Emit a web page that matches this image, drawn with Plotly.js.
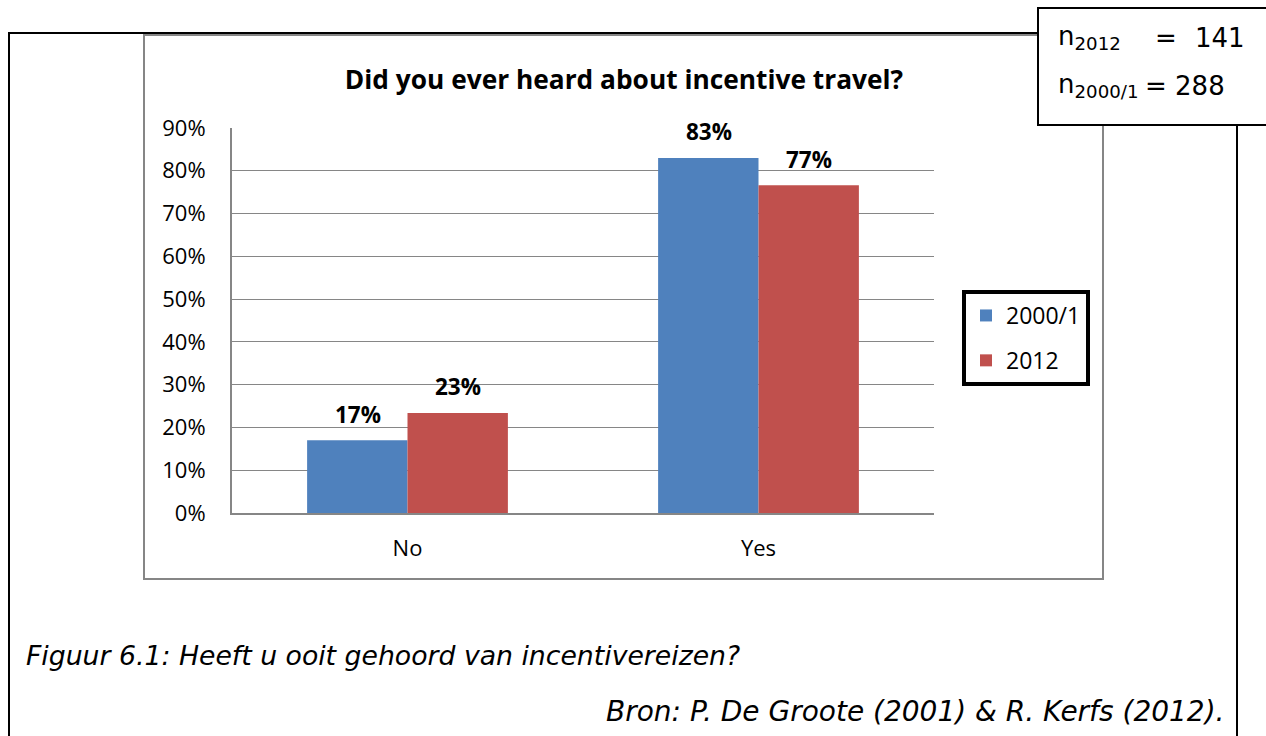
<!DOCTYPE html>
<html>
<head>
<meta charset="utf-8">
<script src="https://cdn.plot.ly/plotly-3.0.1.min.js"></script>
<style>html,body{margin:0;padding:0;background:#fff;}#chart{width:1266px;height:736px;}</style>
</head>
<body>
<div id="chart"></div>
<script>
// ---- data ----
const categories = ["No", "Yes"];
const seriesNames = ["2000/1", "2012"];
const values2000 = [17.0, 83.0];
const values2012 = [23.4, 76.6];
const yTickVals = [0, 10, 20, 30, 40, 50, 60, 70, 80, 90];
const yTickText = ["0%", "10%", "20%", "30%", "40%", "50%", "60%", "70%", "80%", "90%"];
const sampleLabels = ["2012", "2000/1"];
const sampleSizes = [141, 288];
const titleText = "Did you ever heard about incentive travel?";
const captionText = "Figuur 6.1: Heeft u ooit gehoord van incentivereizen?";
const sourceText = "Bron: P. De Groote (2001) & R. Kerfs (2012).";

// ---- layout helpers (pixel -> paper) ----
const PL = 232, PR = 934, PT = 128, PB = 513;
const W = PR - PL, H = PB - PT;
const px = x => (x - PL) / W;
const py = y => (PB - y) / H;

const colors = ["#4F81BD", "#C0504D"];
const chartFont = "'Open Sans', Lato, sans-serif";
const verdana = "'DejaVu Sans', Verdana, sans-serif";

const traces = [values2000, values2012].map((vals, i) => ({
  type: "bar",
  name: seriesNames[i],
  x: categories,
  y: vals,
  marker: {color: colors[i]},
  legendgroup: "g" + i,
  hoverinfo: "none"
}));

const annotations = [];
[values2000, values2012].forEach((vals, i) => {
  vals.forEach((v, j) => {
    annotations.push({
      xref: "x", yref: "y", x: categories[j], y: v,
      text: Math.round(v) + "%", showarrow: false,
      xshift: i === 0 ? -50 : 50, yshift: 26, yanchor: "middle",
      font: {family: chartFont, size: 22.5, color: "#000", weight: "bold"}
    });
  });
});

// caption & source
annotations.push({xref: "paper", yref: "paper", x: px(24), y: py(655), xanchor: "left", yanchor: "middle",
  text: "<i>" + captionText + "</i>", showarrow: false, font: {family: verdana, size: 26.7, color: "#000"}});
annotations.push({xref: "paper", yref: "paper", x: px(1226), y: py(711), xanchor: "right", yanchor: "middle",
  text: "<i>" + sourceText + "</i>", showarrow: false, font: {family: verdana, size: 28, color: "#000"}});

// n box texts
const nFont = {family: verdana, size: 26, color: "#000"};
const nRows = [38, 86];
sampleLabels.forEach((lab, i) => {
  annotations.push({xref: "paper", yref: "paper", x: px(1056), y: py(nRows[i]), xanchor: "left", yanchor: "middle",
    text: "n<sub>" + lab + "</sub>", showarrow: false, font: nFont});
});
annotations.push({xref: "paper", yref: "paper", x: px(1153), y: py(nRows[0]), xanchor: "left", yanchor: "middle",
  text: "=", showarrow: false, font: nFont});
annotations.push({xref: "paper", yref: "paper", x: px(1247), y: py(nRows[0]), xanchor: "right", yanchor: "middle",
  text: String(sampleSizes[0]), showarrow: false, font: nFont});
annotations.push({xref: "paper", yref: "paper", x: px(1143), y: py(nRows[1]), xanchor: "left", yanchor: "middle",
  text: "= " + sampleSizes[1], showarrow: false, font: nFont});

const shapes = [
  // outer black frame (document box)
  {type: "path", xref: "paper", yref: "paper", layer: "below",
   path: `M ${px(9)} ${py(745)} L ${px(9)} ${py(33)} L ${px(1237)} ${py(33)} L ${px(1237)} ${py(745)}`,
   line: {color: "#000", width: 2}},
  // chart border (gray)
  {type: "rect", xref: "paper", yref: "paper", layer: "below",
   x0: px(144), x1: px(1103), y0: py(579), y1: py(35),
   line: {color: "#868686", width: 2}, fillcolor: "rgba(0,0,0,0)"},
  // n box
  {type: "rect", xref: "paper", yref: "paper", layer: "above",
   x0: px(1038), x1: px(1275), y0: py(125), y1: py(8),
   line: {color: "#000", width: 2}, fillcolor: "#fff"}
];

const layout = {
  width: 1266, height: 736,
  margin: {l: PL, r: 1266 - PR, t: PT, b: 736 - PB, pad: 0},
  paper_bgcolor: "#fff", plot_bgcolor: "#fff",
  title: {text: "<b>" + titleText + "</b>", x: px(624), xref: "paper", xanchor: "center",
          y: 1 - 80 / 736, yref: "container", yanchor: "middle",
          font: {family: chartFont, size: 26.3, color: "#000"}},
  barmode: "group", bargap: 0.428, bargroupgap: 0,
  showlegend: true,
  legend: {x: px(962), y: py(290), xanchor: "left", yanchor: "top",
           bordercolor: "#000", borderwidth: 4, bgcolor: "#fff",
           traceorder: "grouped", tracegroupgap: 12,
           font: {family: chartFont, size: 23, color: "#000"}},
  xaxis: {showline: true, linecolor: "#868686", linewidth: 2, ticks: "", showgrid: false,
          tickfont: {family: chartFont, size: 22, color: "#000"}, ticklabelstandoff: 15,
          fixedrange: true},
  yaxis: {range: [0, 90], tickvals: yTickVals, ticktext: yTickText,
          showline: true, linecolor: "#868686", linewidth: 2, ticks: "",
          showgrid: true, gridcolor: "#868686", gridwidth: 1, zeroline: false,
          tickfont: {family: chartFont, size: 22, color: "#000"}, ticklabelstandoff: 20,
          fixedrange: true},
  annotations: annotations,
  shapes: shapes
};

Plotly.newPlot("chart", traces, layout, {displayModeBar: false, staticPlot: true});
</script>
</body>
</html>
